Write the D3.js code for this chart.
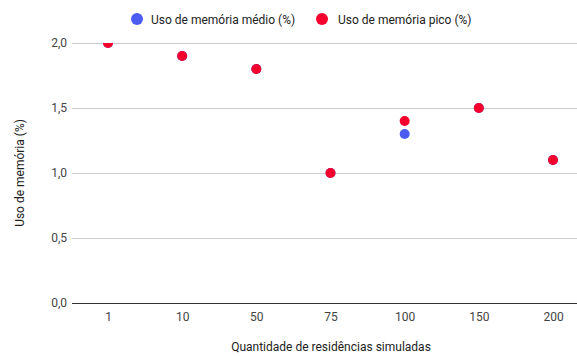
<!DOCTYPE html>
<html>
<head>
<meta charset="utf-8">
<script src="https://cdn.jsdelivr.net/npm/d3@7"></script>
<style>
  html, body { margin: 0; padding: 0; background: #fff; }
  svg { display: block; font-family: Roboto, Arial, sans-serif; }
</style>
</head>
<body>
<svg id="chart" width="577" height="356"></svg>
<script>
const categories = ["1", "10", "50", "75", "100", "150", "200"];
const mediaValues = [2.0, 1.9, 1.8, 1.0, 1.3, 1.5, 1.1];
const picoValues = [2.0, 1.9, 1.8, 1.0, 1.4, 1.5, 1.1];
const yTicks = [0, 0.5, 1.0, 1.5, 2.0];
const seriesNames = ["Uso de memória médio (%)", "Uso de memória pico (%)"];
const seriesColors = ["#4a5cf2", "#f6002e"];

(function () {
  const svg = d3.select("#chart");
  const plotLeft = 72, plotRight = 577, plotTop = 43, plotBottom = 303;

  const x = d3.scalePoint().domain(categories).range([108, 553]);
  const y = d3.scaleLinear().domain([0, 2]).range([plotBottom, plotTop]);
  const fmt = v => d3.format(".1f")(v).replace(".", ",");

  // Plot-area clip so points at the top edge are cut like the chart frame
  svg.append("defs").append("clipPath").attr("id", "plot-clip")
    .append("rect").attr("x", plotLeft).attr("y", plotTop)
    .attr("width", plotRight - plotLeft).attr("height", plotBottom - plotTop);

  // Horizontal gridlines
  svg.append("g").selectAll("line").data(yTicks).join("line")
    .attr("x1", plotLeft).attr("x2", plotRight)
    .attr("y1", d => y(d)).attr("y2", d => y(d))
    .attr("stroke", d => d === 0 ? "#333" : "#cccccc")
    .attr("stroke-width", 1)
    .attr("shape-rendering", "crispEdges");

  // Y axis labels
  const yAxis = d3.axisLeft(y).tickValues(yTicks).tickFormat(fmt).tickSize(0).tickPadding(0);
  svg.append("g").attr("transform", `translate(${plotLeft - 5},0)`).call(yAxis)
    .call(g => g.select(".domain").remove())
    .call(g => g.selectAll("text").attr("fill", "#444").attr("font-size", 12).attr("font-family", "Roboto, Arial, sans-serif"));

  // X axis labels
  const xAxis = d3.axisBottom(x).tickSize(0).tickPadding(0);
  svg.append("g").attr("transform", `translate(0,${plotBottom + 9})`).call(xAxis)
    .call(g => g.select(".domain").remove())
    .call(g => g.selectAll("text").attr("fill", "#444").attr("font-size", 12).attr("font-family", "Roboto, Arial, sans-serif"));

  // Axis titles
  svg.append("text").attr("x", 331).attr("y", 351).attr("text-anchor", "middle")
    .attr("font-size", 12).attr("fill", "#222").text("Quantidade de residências simuladas");
  svg.append("text").attr("transform", "translate(24,173) rotate(-90)").attr("text-anchor", "middle")
    .attr("font-size", 12).attr("fill", "#222").text("Uso de memória (%)");

  // Points
  const seriesData = [mediaValues, picoValues];
  const pts = svg.append("g").attr("clip-path", "url(#plot-clip)");
  seriesData.forEach((vals, i) => {
    pts.append("g").selectAll("circle").data(vals).join("circle")
      .attr("cx", (d, j) => x(categories[j]))
      .attr("cy", d => y(d))
      .attr("r", 5)
      .attr("fill", seriesColors[i]);
  });

  // Legend
  const legendX = [137, 322];
  const legendTextX = [151, 338];
  seriesNames.forEach((name, i) => {
    svg.append("circle").attr("cx", legendX[i]).attr("cy", 19).attr("r", 6).attr("fill", seriesColors[i]);
    svg.append("text").attr("x", legendTextX[i]).attr("y", 23.5).attr("font-size", 12).attr("fill", "#222").text(name);
  });
})();
</script>
</body>
</html>
